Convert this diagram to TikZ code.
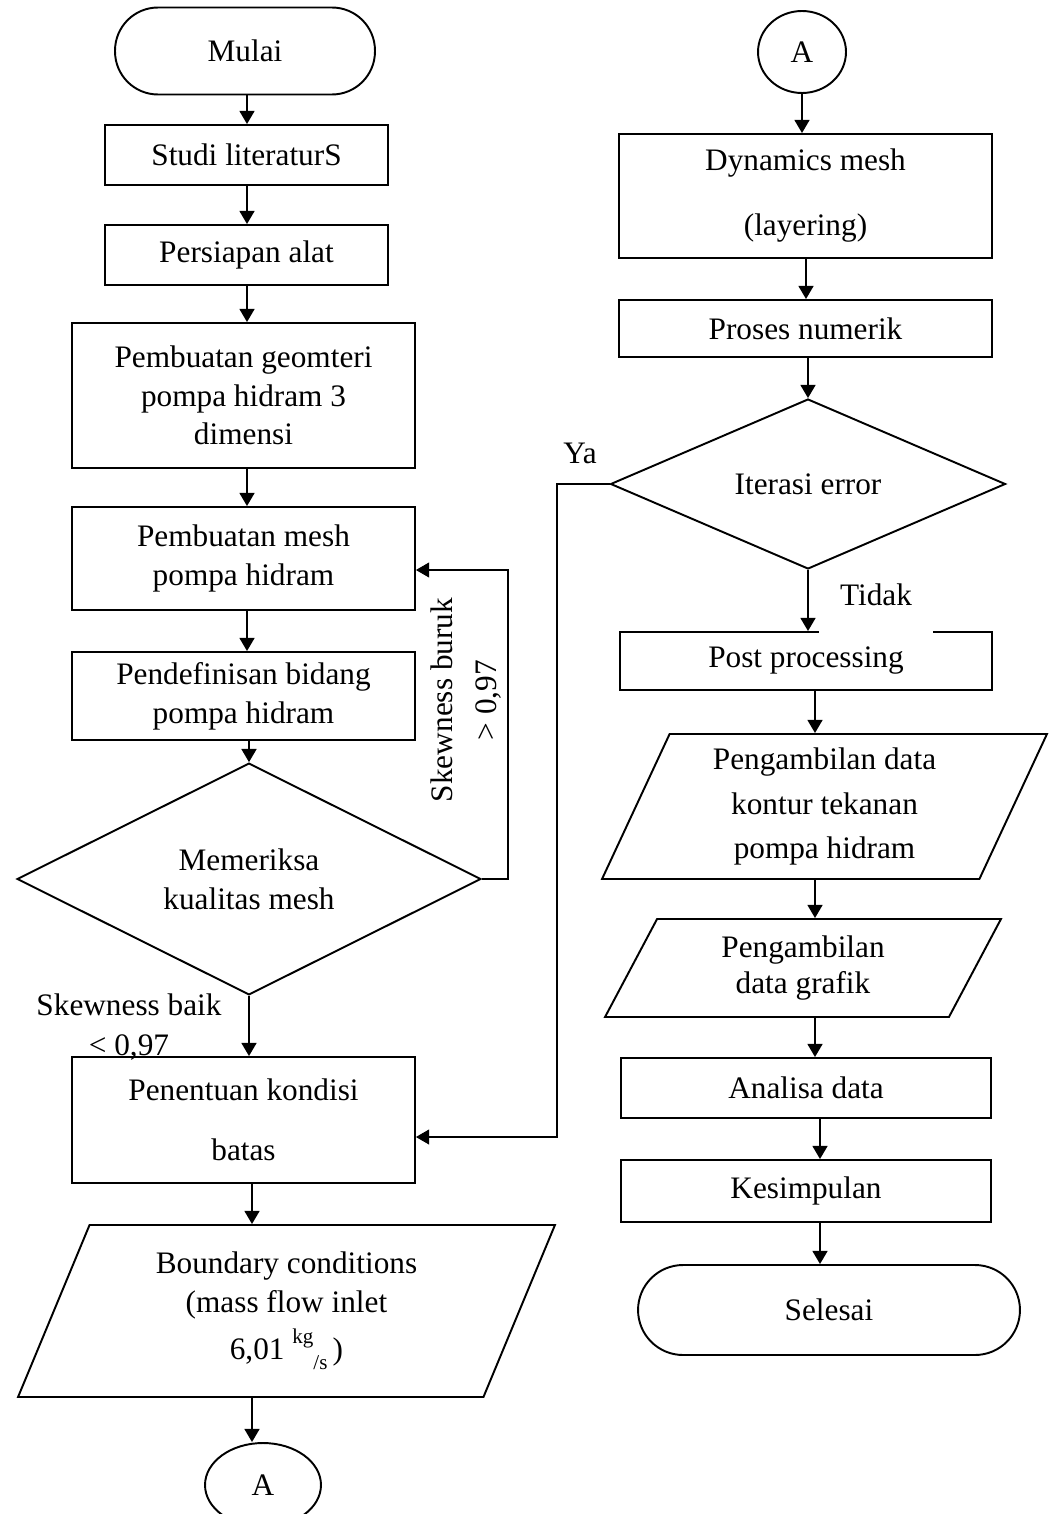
\documentclass[tikz,border=0pt]{standalone}
\usepackage{fontspec}
\setmainfont{Liberation Serif}
\usetikzlibrary{shapes.geometric,arrows.meta}

\tikzset{
  every node/.style={font=\fontsize{17.8pt}{22pt}\selectfont},
  proc/.style={rectangle, draw, line width=1.1pt, align=center, inner sep=2pt},
  term/.style={rectangle, draw, line width=1.1pt, rounded corners=0.86cm},
  dec/.style={diamond, draw, line width=1.1pt, align=center, inner sep=0pt},
  io/.style={trapezium, trapezium stretches body, draw, line width=1.1pt, align=center, inner sep=0pt},
  con/.style={ellipse, draw, line width=1.1pt},
  lbl/.style={align=center, inner sep=1pt},
  arr/.style={line width=1.1pt, -{Triangle[width=8.5pt,length=7.5pt]}},
  thinarr/.style={line width=0.6pt, -{Triangle[width=8.5pt,length=7.5pt]}}
}

\begin{document}
\begin{tikzpicture}[x=0.02cm, y=-0.02cm]
  \useasboundingbox (0,0) rectangle (1048,1514);
  % left column
  \node[term, minimum width=5.2cm, minimum height=1.74cm] (mulai) at (245,51) {Mulai};
  \node[proc, minimum width=5.66cm, minimum height=1.2cm] (studi) at (246.5,155) {Studi literaturS};
  \node[proc, minimum width=5.66cm, minimum height=1.2cm] (alat) at (246.5,255) {Persiapan alat};
  \node[proc, minimum width=6.86cm, minimum height=2.9cm] (geom) at (243.5,395.5) {Pembuatan geomteri\\pompa hidram 3\\dimensi};
  \node[proc, minimum width=6.86cm, minimum height=2.06cm] (mesh) at (243.5,558.5) {Pembuatan mesh\\pompa hidram};
  \node[proc, minimum width=6.86cm, minimum height=1.76cm] (bidang) at (243.5,696) {Pendefinisan bidang\\pompa hidram};
  \node[dec, minimum width=9.28cm, minimum height=3.88cm] (cek) at (249,879) {Memeriksa\\kualitas mesh};
  \node[proc, minimum width=6.86cm, minimum height=2.52cm, font=\fontsize{17.8pt}{34pt}\selectfont] (batas) at (243.5,1120) {Penentuan kondisi\\batas};
  \node[io, trapezium left angle=58.8, trapezium right angle=121.2, minimum width=10.74cm, minimum height=3.44cm] (bc) at (286.5,1311)
    {Boundary conditions\\(mass flow inlet\\[5pt]6,01 \raisebox{1.1ex}{\fontsize{12pt}{12pt}\selectfont kg}\raisebox{-0.7ex}{\fontsize{12pt}{12pt}\selectfont /s}\,)};
  \node[con, minimum width=2.32cm, minimum height=1.68cm] (conA) at (263,1485) {A};

  % right column
  \node[con, minimum width=1.76cm, minimum height=1.64cm] (conB) at (802,52) {A};
  \node[proc, minimum width=7.46cm, minimum height=2.48cm, font=\fontsize{17.8pt}{37pt}\selectfont] (dyn) at (805.5,196) {Dynamics mesh\\(layering)};
  \node[proc, minimum width=7.46cm, minimum height=1.14cm] (num) at (805.5,328.5) {Proses numerik};
  \node[dec, minimum width=7.9cm, minimum height=3.4cm] (iter) at (808,484) {Iterasi error};
  \node[proc, minimum width=7.44cm, minimum height=1.16cm] (post) at (806,661) {Post processing};
  \node[io, trapezium left angle=60.2, trapezium right angle=119.8, minimum width=8.9cm, minimum height=2.9cm, font=\fontsize{17.8pt}{25.5pt}\selectfont] (kontur) at (824.5,806.5) {Pengambilan data\\kontur tekanan\\pompa hidram};
  \node[io, trapezium left angle=51.1, trapezium right angle=128.9, minimum width=7.92cm, minimum height=1.96cm, font=\fontsize{17.8pt}{20.5pt}\selectfont] (grafik) at (803,968) {Pengambilan\\data grafik};
  \node[proc, minimum width=7.4cm, minimum height=1.2cm] (analisa) at (806,1088) {Analisa data};
  \node[proc, minimum width=7.4cm, minimum height=1.24cm] (simpul) at (806,1191) {Kesimpulan};
  \node[term, minimum width=7.64cm, minimum height=1.8cm, rounded corners=0.9cm] (selesai) at (829,1310) {Selesai};

  % labels
  \node[lbl, rotate=90, font=\fontsize{17.8pt}{25pt}\selectfont] (buruk) at (466,700) {Skewness buruk\\> 0,97};
  \node[lbl, font=\fontsize{17.8pt}{22.7pt}\selectfont] (baik) at (129,1027) {Skewness baik\\< 0,97};
  \node[lbl] (ya) at (580,453) {Ya};

  % helper points
  \coordinate (xl) at (247,0);
  \coordinate (xk) at (252,0);
  \coordinate (xr) at (806,0);
  \coordinate (xs) at (815,0);
  \coordinate (xt) at (820,0);
  \coordinate (fb) at (508,570);
  \coordinate (yb) at (557,1137);

  % arrows left
  \draw[arr] (mulai.south -| xl) -- (studi.north -| xl);
  \draw[arr] (studi.south -| xl) -- (alat.north -| xl);
  \draw[arr] (alat.south -| xl) -- (geom.north -| xl);
  \draw[arr] (geom.south -| xl) -- (mesh.north -| xl);
  \draw[arr] (mesh.south -| xl) -- (bidang.north -| xl);
  \draw[arr] (bidang.south -| cek) -- (cek.north);
  \draw[arr] (cek.south) -- (batas.north -| cek);
  \draw[arr] (batas.south -| xk) -- (bc.north -| xk);
  \draw[arr] (bc.south -| xk) -- (conA.north -| xk);
  \draw[thinarr] (cek.east) -| (fb) -- (mesh.east |- fb);

  % arrows right
  \draw[arr] (conB.south) -- (dyn.north -| conB);
  \draw[arr] (dyn.south -| xr) -- (num.north -| xr);
  \draw[arr] (num.south -| iter) -- (iter.north);
  \draw[arr] (iter.south) -- (post.north -| iter);
  \draw[arr] (post.south -| xs) -- (kontur.north -| xs);
  \draw[arr] (kontur.south -| xs) -- (grafik.north -| xs);
  \draw[arr] (grafik.south -| xs) -- (analisa.north -| xs);
  \draw[arr] (analisa.south -| xt) -- (simpul.north -| xt);
  \draw[arr] (simpul.south -| xt) -- (selesai.north -| xt);
  \draw[thinarr] (iter.west) -| (yb) -- (batas.east |- yb);

  % label over box edge
  \node[lbl, fill=white, inner xsep=0.42cm, text depth=0.56cm, anchor=base] (tidak) at (876,605) {Tidak};
\end{tikzpicture}
\end{document}
